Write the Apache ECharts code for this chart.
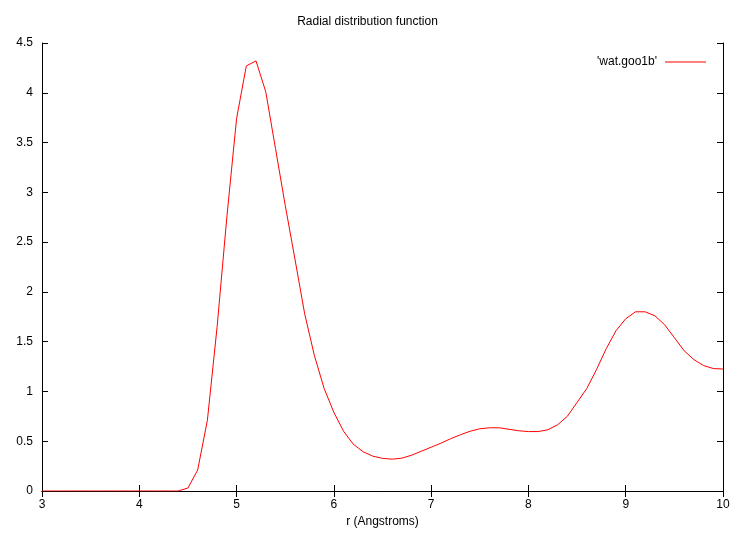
<!DOCTYPE html>
<html>
<head>
<meta charset="utf-8">
<script src="https://cdn.jsdelivr.net/npm/echarts@6/dist/echarts.min.js"></script>
<style>html,body{margin:0;padding:0;background:#fff}#c{width:735px;height:536px}</style>
</head>
<body>
<div id="c"></div>
<script>
const title = "Radial distribution function";
const xLabel = "r (Angstroms)";
const seriesName = "'wat.goo1b'";
const rValues = [3.0,3.1,3.2,3.3,3.4,3.5,3.6,3.7,3.8,3.9,4.0,4.1,4.2,4.3,4.4,4.5,4.6,4.7,4.8,4.9,
  5.0,5.1,5.2,5.3,5.4,5.5,5.6,5.7,5.8,5.9,6.0,6.1,6.2,6.3,6.4,6.5,6.6,6.7,6.8,6.9,
  7.0,7.1,7.2,7.3,7.4,7.5,7.6,7.7,7.8,7.9,8.0,8.1,8.2,8.3,8.4,8.5,8.6,8.7,8.8,8.9,
  9.0,9.1,9.2,9.3,9.4,9.5,9.6,9.7,9.8,9.9,10.0];
const gValues = [0,0,0,0,0,0,0,0,0,0,0,0,0,0,0.0,0.03,0.21,0.71,1.65,2.75,
  3.74,4.27,4.32,4.01,3.44,2.87,2.33,1.78,1.36,1.03,0.79,0.60,0.47,0.395,0.35,0.328,0.32,0.33,0.36,0.40,
  0.44,0.48,0.525,0.565,0.60,0.625,0.635,0.635,0.62,0.605,0.597,0.597,0.615,0.665,0.75,0.89,1.03,1.22,1.43,1.61,
  1.73,1.80,1.80,1.76,1.67,1.54,1.41,1.32,1.26,1.23,1.225];
const xTicks = {min: 3, max: 10, interval: 1};
const yTicks = {min: 0, max: 4.5, interval: 0.5};

const font = "'Liberation Sans', Arial, sans-serif";
const chart = echarts.init(document.getElementById('c'), null, {renderer: 'canvas'});
const axisLine = {show: true, lineStyle: {color: '#000', width: 1}};
const tick = {show: true, inside: true, length: 6, lineStyle: {color: '#000'}};
const lbl = {color: '#000', fontFamily: font, fontSize: 12};
const data = rValues.map((r, i) => [r, gValues[i]]);

chart.setOption({
  animation: false,
  backgroundColor: '#fff',
  title: {text: title, left: 'center', top: 11, textStyle: {fontFamily: font, fontSize: 12, fontWeight: 'normal', color: '#000'}},
  legend: {
    right: 24, top: 51, orient: 'vertical', align: 'right',
    itemWidth: 41, itemHeight: 1, itemGap: 8,
    icon: 'rect',
    textStyle: {fontFamily: font, fontSize: 12, color: '#000', padding: [0, 3, 0, 0]},
    data: [{name: seriesName, icon: 'rect'}]
  },
  grid: {left: 42, right: 12, top: 43, bottom: 45, containLabel: false},
  xAxis: [
    {type: 'value', min: xTicks.min, max: xTicks.max, interval: xTicks.interval, position: 'bottom',
     name: xLabel, nameLocation: 'middle', nameGap: 25, nameTextStyle: {fontFamily: font, fontSize: 12, color: '#000'},
     axisLine: axisLine, axisTick: tick, axisLabel: Object.assign({margin: 8}, lbl), splitLine: {show: false}},
    {type: 'value', min: xTicks.min, max: xTicks.max, interval: xTicks.interval, position: 'top',
     axisLine: axisLine, axisTick: tick, axisLabel: {show: false}, splitLine: {show: false}}
  ],
  yAxis: [
    {type: 'value', min: yTicks.min, max: yTicks.max, interval: yTicks.interval, position: 'left',
     axisLine: axisLine, axisTick: tick, axisLabel: Object.assign({margin: 9}, lbl), splitLine: {show: false}},
    {type: 'value', min: yTicks.min, max: yTicks.max, interval: yTicks.interval, position: 'right',
     axisLine: axisLine, axisTick: tick, axisLabel: {show: false}, splitLine: {show: false}}
  ],
  series: [{
    name: seriesName, type: 'line', data: data, xAxisIndex: 0, yAxisIndex: 0,
    showSymbol: false, symbol: 'none', smooth: false,
    lineStyle: {color: '#ff0000', width: 1}, itemStyle: {color: '#ff0000'}
  }]
});
</script>
</body>
</html>
